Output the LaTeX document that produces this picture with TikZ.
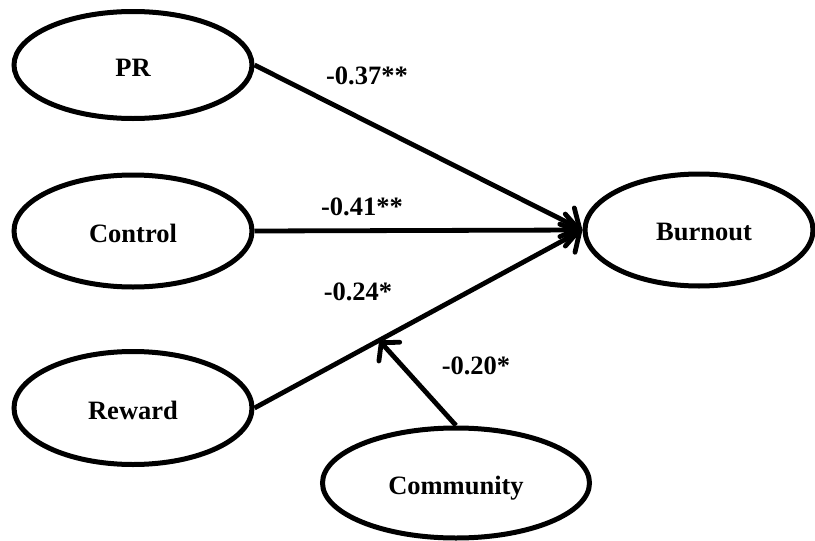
\documentclass[tikz,border=0pt]{standalone}
\usepackage{fontspec}
\setmainfont{Liberation Serif}
\usetikzlibrary{arrows.meta,shapes.geometric,calc}
\begin{document}
\begin{tikzpicture}[x=1pt,y=-1pt,
  latent/.style={draw=black, line width=5pt, ellipse, inner sep=0pt, fill=white},
  path/.style={line width=4.8pt, -{Straight Barb[length=14pt,width=32pt,line cap=round]}},
  coef/.style={font=\fontsize{26.5}{30}\selectfont\bfseries, inner sep=0pt}]
\useasboundingbox (0,0) rectangle (815,541);
\node[latent, minimum width=238pt, minimum height=107pt] (PR) at (133,65) {};
\node[latent, minimum width=238pt, minimum height=112pt] (Control) at (133,231) {};
\node[latent, minimum width=238pt, minimum height=113pt] (Reward) at (133,408) {};
\node[latent, minimum width=228pt, minimum height=112pt] (Burnout) at (699,230) {};
\node[latent, minimum width=267pt, minimum height=110pt] (Community) at (456,483) {};
\node[coef] (tPR) at (133,68) {PR};
\node[coef] (tControl) at (133,233) {Control};
\node[coef] (tReward) at (133,410) {Reward};
\node[coef] (tBurnout) at (704,232) {Burnout};
\node[coef] (tCommunity) at (456,488) {Community};
\draw[path] (PR.east) -- (Burnout.west);
\draw[path] (Control.east) -- (Burnout.west);
\draw[path] (Reward.east) -- (Burnout.west);
\coordinate (mod) at ($(Reward.east)!0.38!(Burnout.west)$);
\draw[path, -{Straight Barb[length=12pt,width=28pt,line cap=round]}] (Community.north) -- (mod);
\node[coef] (c1) at (367,76) {-0.37**};
\node[coef] (c2) at (362,207) {-0.41**};
\node[coef] (c3) at (358,292) {-0.24*};
\node[coef] (c4) at (476,366) {-0.20*};
\end{tikzpicture}
\end{document}
